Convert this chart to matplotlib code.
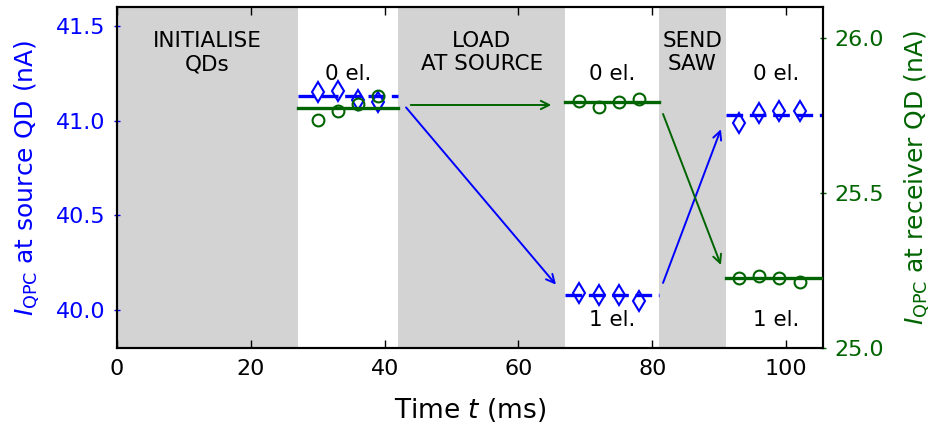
import matplotlib
matplotlib.use("Agg")
import matplotlib.pyplot as plt

# Measurement windows (ms) and the shaded operation phases
phase_spans = [(0, 27), (42, 67), (81, 91)]
phase_labels = ["INITIALISE\nQDs", "LOAD\nAT SOURCE", "SEND\nSAW"]
phase_label_x = [13.5, 54.5, 86]

# Readout windows: start/end times of each level
window_start = [27, 67, 91]
window_end = [42, 81, 106]

# Sample times in each readout window
t_win1 = [30, 33, 36, 39]
t_win2 = [69, 72, 75, 78]
t_win3 = [93, 96, 99, 102]

# Source QD current (nA), left axis
src_win1 = [41.15, 41.155, 41.11, 41.10]
src_win2 = [40.09, 40.082, 40.082, 40.047]
src_win3 = [40.99, 41.04, 41.05, 41.05]
src_levels = [41.13, 40.08, 41.03]

# Receiver QD current (nA), right axis
rcv_win1 = [25.735, 25.765, 25.787, 25.813]
rcv_win2 = [25.798, 25.778, 25.793, 25.802]
rcv_win3 = [25.227, 25.233, 25.225, 25.214]
rcv_levels = [25.773, 25.793, 25.225]

# Electron count annotations
count_labels_top = ["0 el.", "0 el.", "0 el."]
count_top_x = [34.5, 74, 98.5]
count_labels_bottom = ["1 el.", "1 el."]
count_bottom_x = [74, 98.5]

# Transfer arrows: (x0, y0, x1, y1)
src_arrows = [(43.2, 41.07, 65.6, 40.135), (81.6, 40.144, 90.25, 40.955)]
rcv_arrows = [(43.9, 25.784, 64.9, 25.784), (81.6, 25.755, 90.25, 25.268)]

BLUE = "#0000ff"
GREEN = "#006400"

fig = plt.figure(figsize=(9.32, 4.24), dpi=100)
ax = fig.add_axes([0.1255, 0.179, 0.883 - 0.1255, 0.9835 - 0.179])
ax2 = ax.twinx()

for (a, b) in phase_spans:
    ax.axvspan(a, b, color="lightgrey", lw=0, zorder=0)
for lab, x in zip(phase_labels, phase_label_x):
    ax.text(x, 41.36, lab, ha="center", va="center", fontsize=15.5)

for x, lab in zip(count_top_x, count_labels_top):
    ax.text(x, 41.245, lab, ha="center", va="center", fontsize=15.5)
for x, lab in zip(count_bottom_x, count_labels_bottom):
    ax.text(x, 39.95, lab, ha="center", va="center", fontsize=15.5)

# source QD levels and samples
for lvl, a, b in zip(src_levels, window_start, window_end):
    ax.plot([a, b], [lvl, lvl], color=BLUE, lw=2.4, ls=(0, (5, 2)), zorder=3)
for t, v in [(t_win1, src_win1), (t_win2, src_win2), (t_win3, src_win3)]:
    ax.plot(t, v, ls="none", marker="d", ms=10.5, mfc="none", mec=BLUE, mew=1.5, zorder=4)

# receiver QD levels and samples
for lvl, a, b in zip(rcv_levels, window_start, window_end):
    ax2.plot([a, b], [lvl, lvl], color=GREEN, lw=2.4, zorder=3)
for t, v in [(t_win1, rcv_win1), (t_win2, rcv_win2), (t_win3, rcv_win3)]:
    ax2.plot(t, v, ls="none", marker="o", ms=8.5, mfc="none", mec=GREEN, mew=1.5, zorder=4)

for (x0, y0, x1, y1) in src_arrows:
    ax.annotate("", xy=(x1, y1), xytext=(x0, y0),
                arrowprops=dict(arrowstyle="->,head_length=0.6,head_width=0.3",
                                color=BLUE, lw=1.4, shrinkA=0, shrinkB=0))
for (x0, y0, x1, y1) in rcv_arrows:
    ax2.annotate("", xy=(x1, y1), xytext=(x0, y0),
                 arrowprops=dict(arrowstyle="->,head_length=0.6,head_width=0.3",
                                 color=GREEN, lw=1.4, shrinkA=0, shrinkB=0))

ax.set_xlim(0, 105.5)
ax.set_ylim(39.8, 41.6)
ax2.set_ylim(25.0, 26.1)

ax.set_xticks([0, 20, 40, 60, 80, 100])
ax.set_yticks([40.0, 40.5, 41.0, 41.5])
ax2.set_yticks([25.0, 25.5, 26.0])

ax.tick_params(axis="x", direction="in", top=True, length=6, width=1, labelsize=16, pad=8)
ax.tick_params(axis="y", direction="inout", length=5, width=1, labelsize=16, colors=BLUE, pad=6)
ax2.tick_params(axis="y", direction="inout", length=5, width=1, labelsize=16, colors=GREEN, pad=6)

for a in (ax, ax2):
    for s in a.spines.values():
        s.set_linewidth(1.5)

ax.set_xlabel("Time $t$ (ms)", fontsize=19, labelpad=12)
ax.set_ylabel(r"$I_{\rm QPC}$ at source QD (nA)", fontsize=18, color=BLUE, labelpad=10)
ax2.set_ylabel(r"$I_{\rm QPC}$ at receiver QD (nA)", fontsize=18, color=GREEN, labelpad=13)

fig.savefig("out.png", dpi=100)
